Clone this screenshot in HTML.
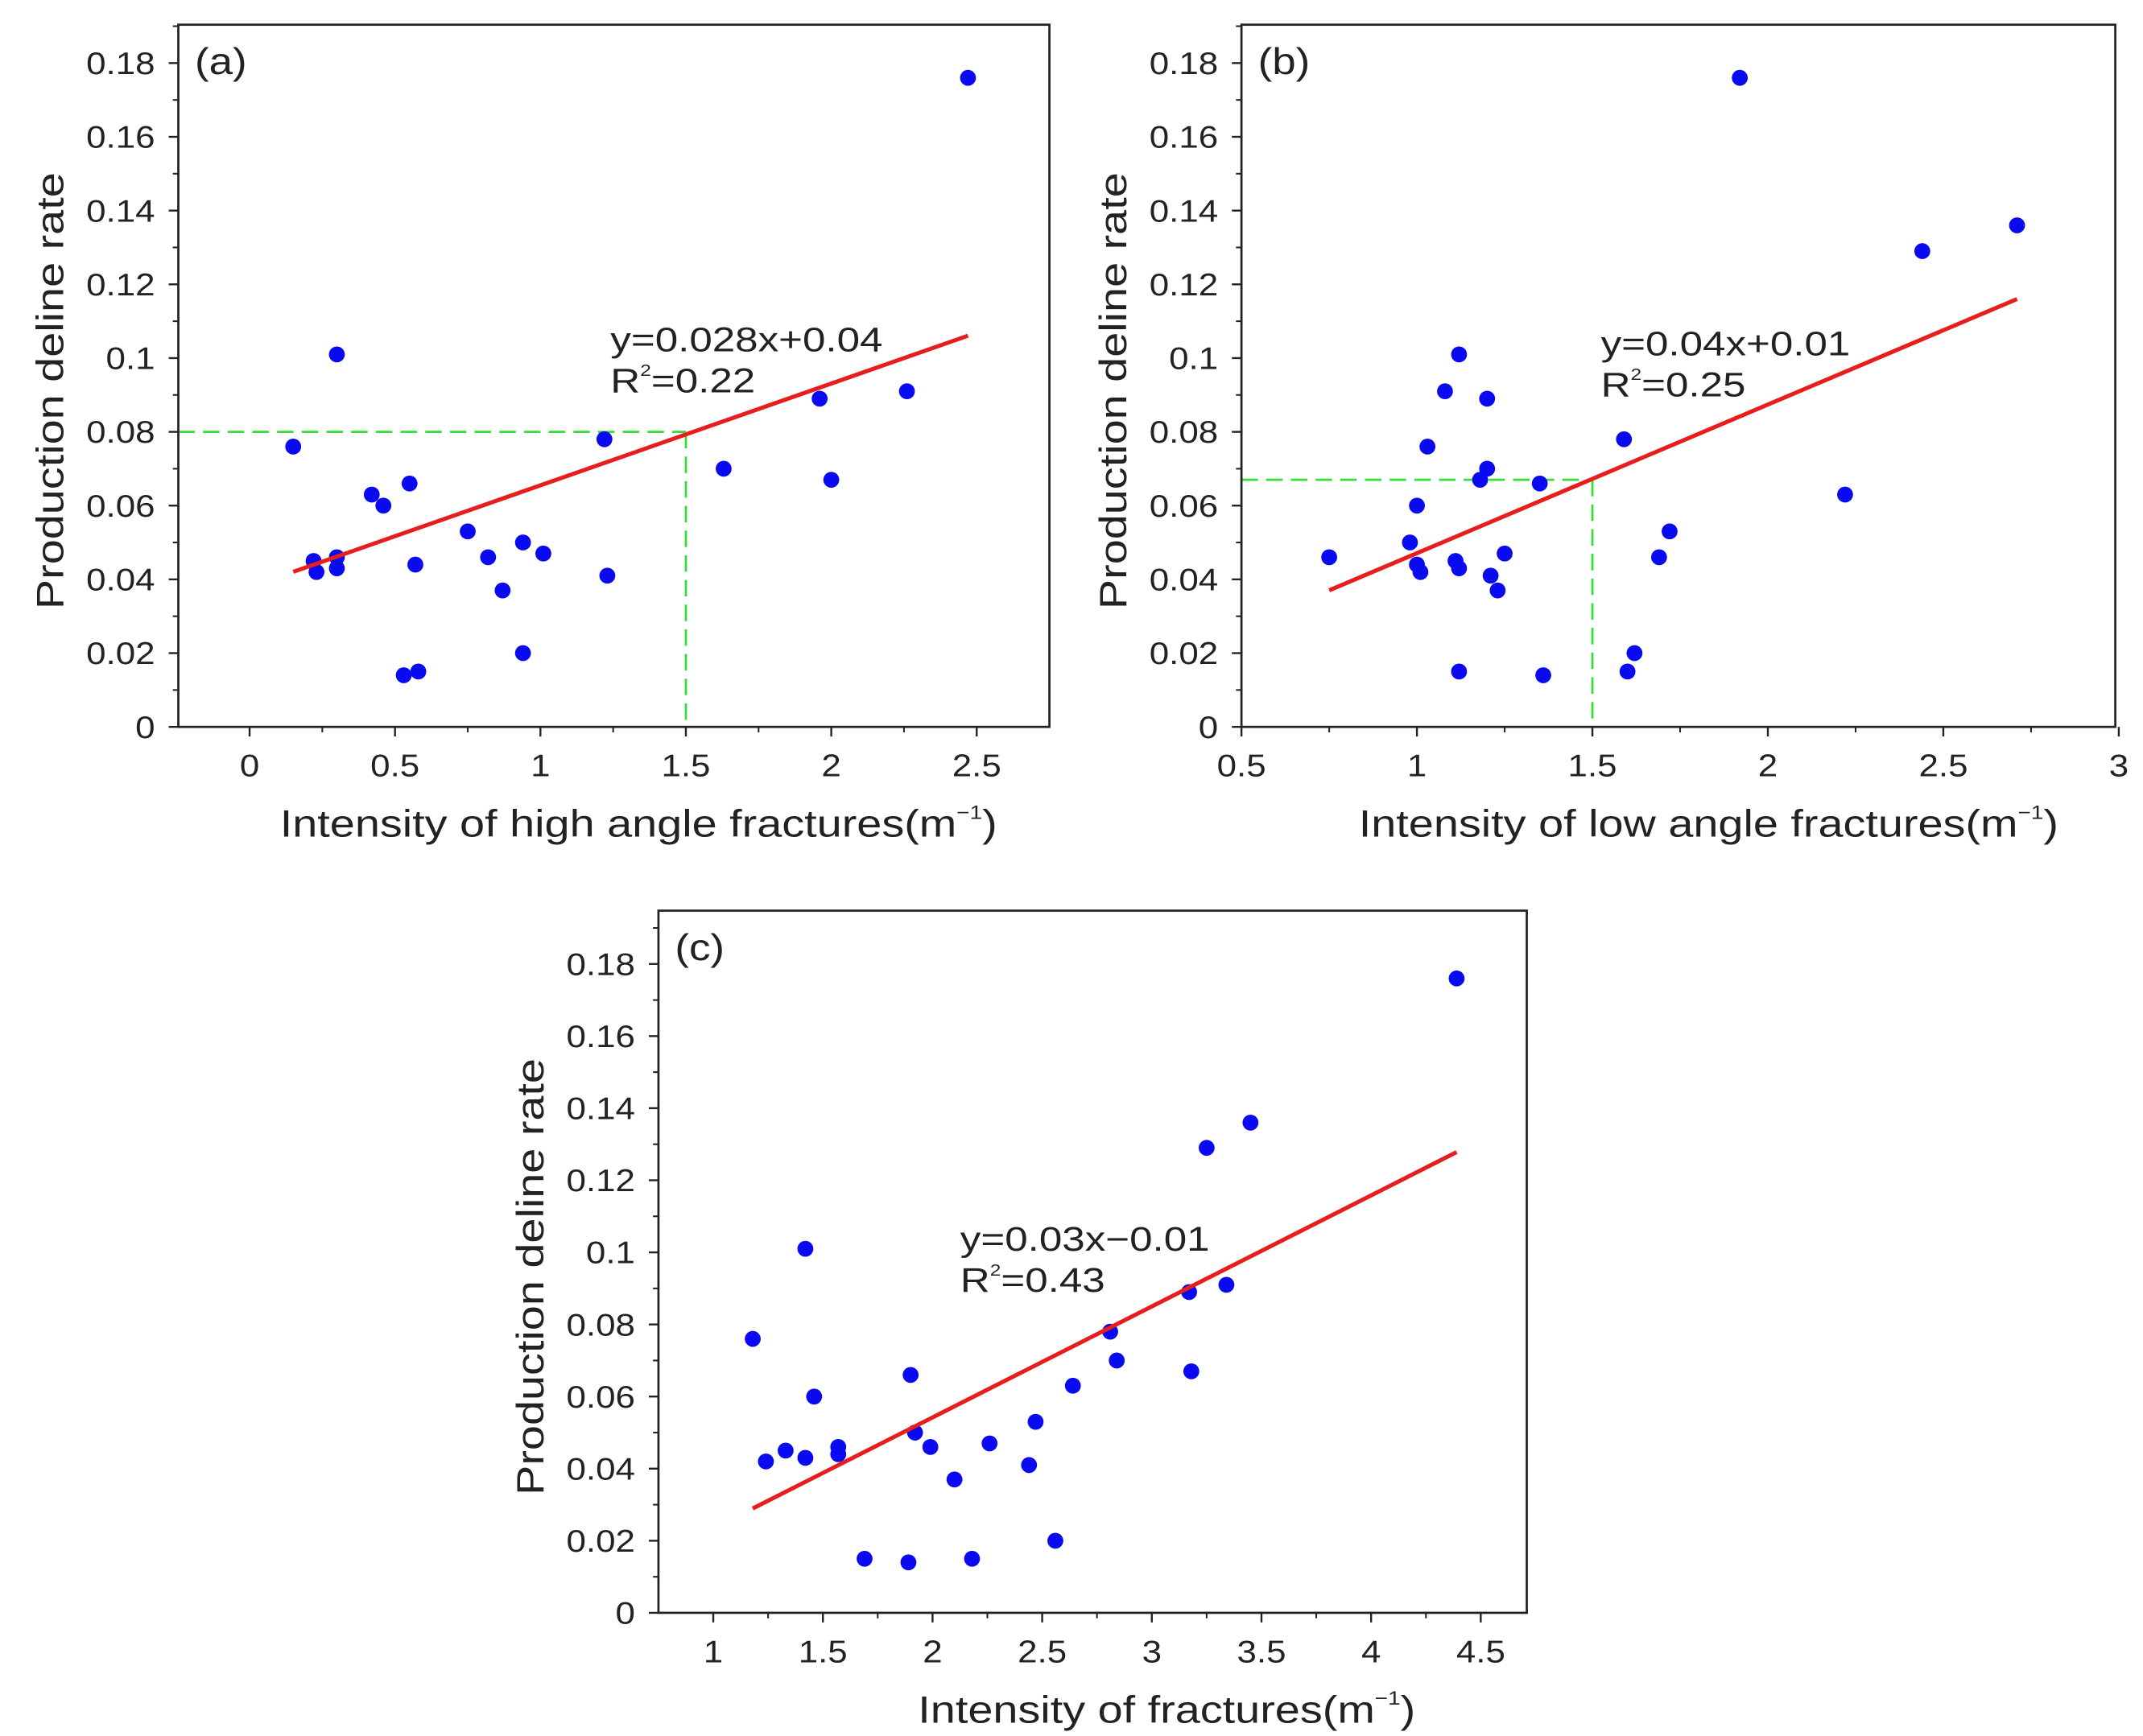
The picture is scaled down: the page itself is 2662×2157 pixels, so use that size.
<!DOCTYPE html>
<html><head><meta charset="utf-8"><style>
html,body{margin:0;padding:0;background:#fff}
svg{display:block}
text{font-family:"Liberation Sans",sans-serif;fill:#222}
</style></head><body>
<svg id="fig" width="2662" height="2157" viewBox="0 0 1562.2 1265.8" xmlns="http://www.w3.org/2000/svg"></svg>
<script>
const aX=[0.15,0.22,0.23,0.30,0.30,0.30,0.42,0.46,0.55,0.57,0.53,0.58,0.75,0.82,0.87,0.94,0.94,1.01,1.22,1.23,1.63,1.96,2.00,2.26,2.47];
const aY=[0.076,0.045,0.042,0.101,0.046,0.043,0.063,0.060,0.066,0.044,0.014,0.015,0.053,0.046,0.037,0.050,0.020,0.047,0.078,0.041,0.070,0.089,0.067,0.091,0.176];
const aFit=[0.0276,0.0379];
const aGuide=[1.5,0.08];
const aXTicks=[0,0.5,1,1.5,2,2.5];
const bX=[0.75,0.98,1.00,1.00,1.01,1.03,1.08,1.11,1.12,1.12,1.12,1.18,1.20,1.20,1.21,1.23,1.25,1.35,1.36,1.59,1.60,1.62,1.69,1.72,1.92,2.22,2.44,2.71];
const bY=[0.046,0.050,0.060,0.044,0.042,0.076,0.091,0.045,0.043,0.101,0.015,0.067,0.070,0.089,0.041,0.037,0.047,0.066,0.014,0.078,0.015,0.020,0.046,0.053,0.176,0.063,0.129,0.136];
const bFit=[0.0403,0.0068];
const bGuide=[1.5,0.067];
const bXTicks=[0.5,1,1.5,2,2.5,3];
const cX=[1.18,1.24,1.33,1.42,1.42,1.46,1.57,1.57,1.69,1.89,1.90,1.92,1.99,2.10,2.18,2.26,2.44,2.47,2.56,2.64,2.81,2.84,3.17,3.18,3.25,3.34,3.45,4.39];
const cY=[0.076,0.042,0.045,0.043,0.101,0.060,0.046,0.044,0.015,0.014,0.066,0.050,0.046,0.037,0.015,0.047,0.041,0.053,0.020,0.063,0.078,0.070,0.089,0.067,0.129,0.091,0.136,0.176];
const cFit=[0.0308,-0.0074];
const cXTicks=[1,1.5,2,2.5,3,3.5,4,4.5];
const yTicks=[0,0.02,0.04,0.06,0.08,0.1,0.12,0.14,0.16,0.18];
const yTickLabels=["0","0.02","0.04","0.06","0.08","0.1","0.12","0.14","0.16","0.18"];

const NS="http://www.w3.org/2000/svg";
const svg=document.getElementById('fig');
function mk(tag,attrs,parent){const e=document.createElementNS(NS,tag);for(const k in attrs)e.setAttribute(k,attrs[k]);(parent||svg).appendChild(e);return e;}
function txt(parent,x,y,size,anchor,k,extra){
  const t=mk('text',Object.assign({x:0,y:0,'font-size':size,'text-anchor':anchor,transform:`translate(${x},${y}) ${extra||''} scale(${k},1)`},{}),parent);
  return t;
}

function panel(o){
  const g=mk('g',{});
  
  
  const sx=v=>o.L+(v-o.x0)/(o.x1-o.x0)*(o.R-o.L);
  const sy=v=>o.B-(v-o.y0)/(o.y1-o.y0)*(o.B-o.T);
  if(o.guide){
    const gx=mk('line',{x1:o.L,y1:sy(o.guide[1]),x2:sx(o.guide[0]),y2:sy(o.guide[1]),stroke:'#33dd33','stroke-width':1.6,'stroke-dasharray':'12,6'},g);
    
    
    const gy=mk('line',{x1:sx(o.guide[0]),y1:sy(o.guide[1]),x2:sx(o.guide[0]),y2:o.B,stroke:'#33dd33','stroke-width':1.6,'stroke-dasharray':'12,6'},g);
    
    
  }
  for(let i=0;i<o.xs.length;i++){
    const c=mk('circle',{cx:sx(o.xs[i]),cy:sy(o.ys[i]),r:5.8,fill:'#0a0af0'},g);
    
    
  }
  const xa=Math.min(...o.xs),xb=Math.max(...o.xs);
  const fl=mk('line',{x1:sx(xa),y1:sy(o.fit[0]*xa+o.fit[1]),x2:sx(xb),y2:sy(o.fit[0]*xb+o.fit[1]),stroke:'#e61e1e','stroke-width':3},g);
  
  
  const fr=mk('rect',{x:o.L,y:o.T,width:o.R-o.L,height:o.B-o.T,fill:'none',stroke:'#222','stroke-width':1.6},g);
  
  
  for(let i=0;i<yTicks.length;i++){
    const y=sy(yTicks[i]);
    mk('line',{x1:o.L-7,y1:y,x2:o.L,y2:y,stroke:'#222','stroke-width':1.4},g);
    const t=txt(g,o.L-17,y+8,23,'end',1.12);
    t.textContent=yTickLabels[i];
    
    
    const ym=sy(yTicks[i]+0.01);
    if(ym>o.T) mk('line',{x1:o.L-4,y1:ym,x2:o.L,y2:ym,stroke:'#222','stroke-width':1.2},g);
  }
  for(const v of o.xt){
    const x=sx(v);
    mk('line',{x1:x,y1:o.B,x2:x,y2:o.B+7,stroke:'#222','stroke-width':1.4},g);
    const t=txt(g,x,o.B+36,23,'middle',1.12);
    t.textContent=String(v);
    
    
  }
  for(let v=o.xt[0]-0.75;v<=o.x1;v+=0.25){const x=sx(v);if(x>o.L+1&&x<o.R-1&&Math.abs((v*2)-Math.round(v*2))>0.01)mk('line',{x1:x,y1:o.B,x2:x,y2:o.B+4,stroke:'#222','stroke-width':1.2},g);}
  const lab=txt(g,o.L+12,o.T+36,27,'start',1.15);lab.textContent='('+o.id+')';
  
  
  const e1=txt(g,o.eq[0],o.eq[1],25,'start',1.2);e1.setAttribute('fill','#333');e1.textContent=o.eqText;
  
  
  const e2=txt(g,o.eq[0],o.eq[1]+30,25,'start',1.2);e2.setAttribute('fill','#333');
  e2.innerHTML='R<tspan font-size="12" dy="-12">2</tspan><tspan dy="12">='+o.r2+'</tspan>';
  
  
  const xt=txt(g,(o.L+o.R)/2+o.xtOff,o.B+80,28,'middle',1.17);
  xt.innerHTML=o.xtitle+'(m<tspan font-size="14" dy="-13">−1</tspan><tspan dy="13">)</tspan>';
  
  
  const yc=(o.T+o.B)/2+11;
  const yt=mk('text',{x:0,y:0,'text-anchor':'middle','font-size':28,transform:`translate(${o.L-84},${yc}) rotate(-90) scale(1.17,1)`},g);
  yt.textContent='Production deline rate';
  
  
}
panel({id:'a',L:130,R:765,T:18,B:530,x0:-0.245,x1:2.75,y0:0,y1:0.1904,xs:aX,ys:aY,fit:aFit,guide:aGuide,xt:aXTicks,eq:[445,256],eqText:'y=0.028x+0.04',r2:'0.22',xtitle:'Intensity of high angle fractures',xtOff:18});
panel({id:'b',L:905,R:1542,T:18,B:530,x0:0.5,x1:2.99,y0:0,y1:0.1904,xs:bX,ys:bY,fit:bFit,guide:bGuide,xt:bXTicks,eq:[1167,259],eqText:'y=0.04x+0.01',r2:'0.25',xtitle:'Intensity of low angle fractures',xtOff:22});
panel({id:'c',L:480,R:1113,T:664,B:1176,x0:0.75,x1:4.71,y0:0,y1:0.1948,xs:cX,ys:cY,fit:cFit,guide:null,xt:cXTicks,eq:[700,912],eqText:'y=0.03x−0.01',r2:'0.43',xtitle:'Intensity of fractures',xtOff:54});
</script>
</body></html>
